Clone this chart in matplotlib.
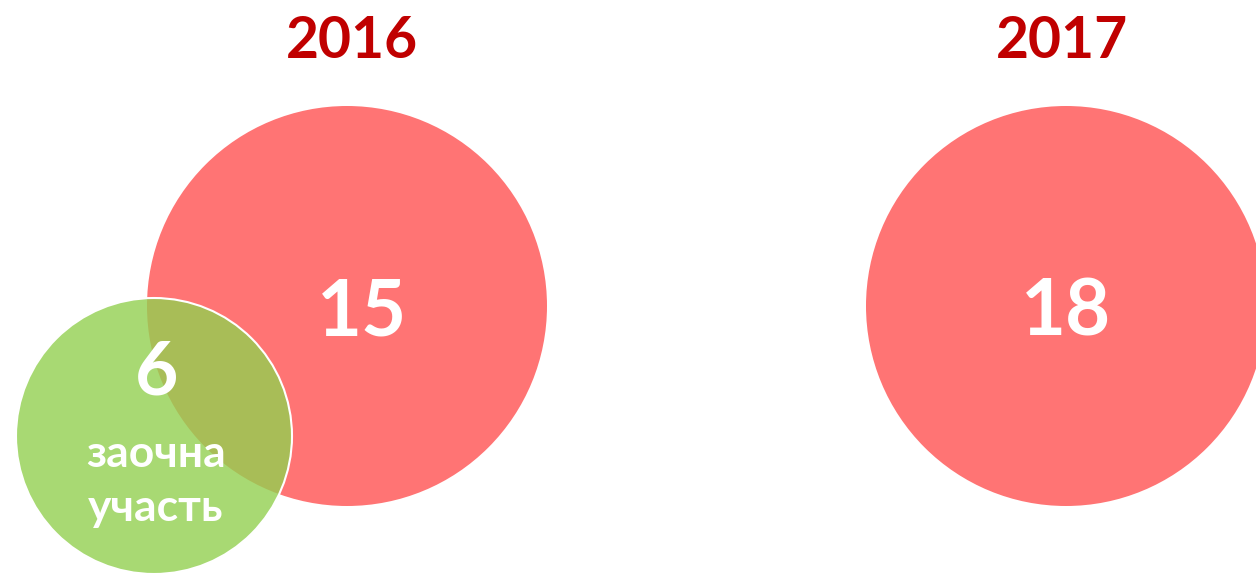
import matplotlib
matplotlib.use("Agg")
import matplotlib.pyplot as plt
from matplotlib.patches import Circle

years = ["2016", "2017"]
participants = [15, 18]
remote_year = "2016"
remote_count = 6
remote_label = "заочна\nучасть"

plt.rcParams['font.family'] = ['Lato', 'DejaVu Sans']

W, H = 1256, 573
fig = plt.figure(figsize=(W / 100, H / 100), dpi=100)
ax = fig.add_axes([0, 0, 1, 1])
ax.set_xlim(0, W)
ax.set_ylim(H, 0)
ax.set_aspect('equal')
ax.axis('off')

centers_x = [347, 1066]
center_y = 306
radius = 200
title_x = [352, 1062]

for yr, val, cx, tx in zip(years, participants, centers_x, title_x):
    ax.add_patch(Circle((cx, center_y), radius, facecolor='#FF7474', edgecolor='none', zorder=1))
    ax.text(tx, 42, yr, color='#C00000', fontsize=41, fontweight='bold',
            ha='center', va='center', zorder=5)
    ax.text(cx + 15 if yr == remote_year else cx, 313, str(val), color='white', fontsize=56,
            fontweight='bold', ha='center', va='center', zorder=5)

gx, gy, gr = 154, 436, 138
ax.add_patch(Circle((gx, gy), gr, facecolor='#92D050', alpha=0.8, edgecolor='none', zorder=2))
ax.add_patch(Circle((gx, gy), gr, facecolor='none', edgecolor='white', linewidth=1.5, zorder=3))
ax.text(157, 373, str(remote_count), color='white', fontsize=54, fontweight='bold',
        ha='center', va='center', zorder=5)
ax.text(156, 481, remote_label, color='white', fontsize=32, fontweight='bold',
        ha='center', va='center', linespacing=1.45, zorder=5)

fig.savefig('out.png', dpi=100)
